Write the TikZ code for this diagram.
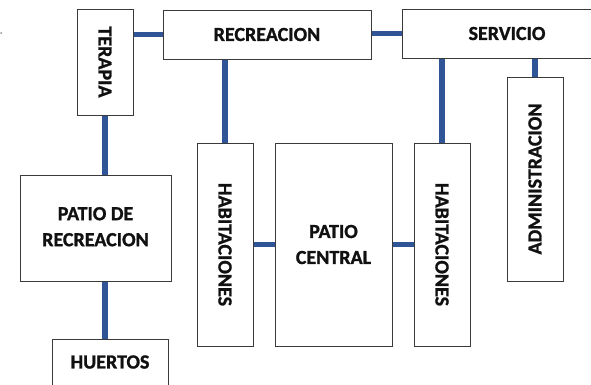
\documentclass[tikz,border=0pt]{standalone}
\usepackage{fontspec}
\setmainfont{Carlito}[BoldFont={Carlito Bold}, BoldFeatures={FakeBold=1.2}]
\usetikzlibrary{backgrounds}
\definecolor{linkblue}{HTML}{2F5597}
\definecolor{boxline}{HTML}{3A3A3A}
\definecolor{txt}{HTML}{111111}
\tikzset{
  box/.style={draw=boxline, line width=1pt, fill=white, inner sep=0pt, text=txt,
    font=\fontsize{20}{26}\selectfont\bfseries, align=center},
  link/.style={linkblue, line width=5.5pt}
}
\begin{document}
\begin{tikzpicture}[x=1pt,y=-1pt]
\useasboundingbox (0,0) rectangle (591,384);
\fill[gray!70] (1.2,33) circle (1.2);
\node[box, minimum width=56pt, minimum height=106pt] (terapia) at (105,62) {\rotatebox{-90}{TERAPIA}};
\node[box, minimum width=208pt, minimum height=49pt] (recreacion) at (267,34.5) {RECREACION};
\node[box, minimum width=210pt, minimum height=49pt] (servicio) at (507,33.5) {SERVICIO};
\node[box, minimum width=56pt, minimum height=204pt] (admin) at (535,179) {\rotatebox{90}{ADMINISTRACION}};
\node[box, minimum width=56pt, minimum height=203pt] (hab1) at (225,244.5) {\rotatebox{-90}{HABITACIONES}};
\node[box, minimum width=117pt, minimum height=203pt] (patio) at (333.5,244.5) {PATIO\\CENTRAL};
\node[box, minimum width=56pt, minimum height=203pt] (hab2) at (442,244.5) {\rotatebox{-90}{HABITACIONES}};
\node[box, minimum width=151pt, minimum height=106pt] (patiorec) at (95.5,228) {\raisebox{5pt}{\begin{tabular}{@{}c@{}}PATIO DE\\RECREACION\end{tabular}}};
\node[box, minimum width=116pt, minimum height=46pt] (huertos) at (110,362) {HUERTOS};
\begin{scope}[on background layer]
\draw[link] (terapia.east |- recreacion.west) -- (recreacion.west);
\draw[link] (recreacion.east) -- (servicio.west -| recreacion.east) -- (servicio.west);
\draw[link] (hab1.north) -- (hab1.north |- recreacion.south);
\draw[link] (hab2.north) -- (hab2.north |- servicio.south);
\draw[link] (admin.north) -- (admin.north |- servicio.south);
\draw[link] (hab1.east) -- (patio.west);
\draw[link] (patio.east) -- (hab2.west);
\draw[link] (terapia.south) -- (terapia.south |- patiorec.north);
\draw[link] (patiorec.south -| terapia.south) -- (huertos.north -| terapia.south);
\end{scope}
\end{tikzpicture}
\end{document}
